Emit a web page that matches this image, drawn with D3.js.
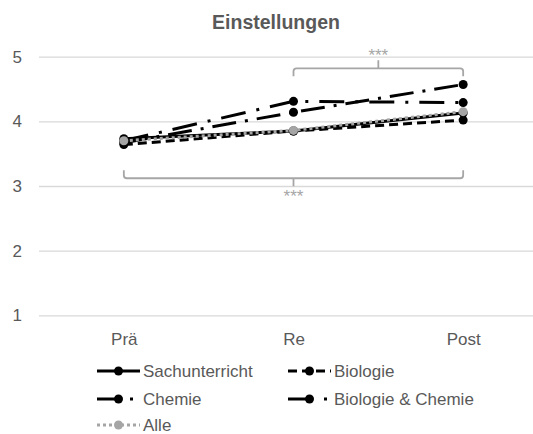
<!DOCTYPE html>
<html><head><meta charset="utf-8">
<script src="https://cdn.jsdelivr.net/npm/d3@7"></script>
<style>
html,body{margin:0;padding:0;background:#fff;}
text{font-family:"Liberation Sans",Arial,Helvetica,sans-serif;}
</style></head>
<body><svg id="chart" width="533" height="434"></svg>
<script>
const title = "Einstellungen";
const categories = ["Prä", "Re", "Post"];
const yTicks = [1, 2, 3, 4, 5];
const seriesNames = ["Sachunterricht", "Biologie", "Chemie", "Biologie & Chemie", "Alle"];
const sachunterricht = [3.73, 3.85, 4.13];
const biologie = [3.64, 3.85, 4.02];
const chemie = [3.67, 4.14, 4.57];
const biologieChemie = [3.70, 4.31, 4.29];
const alle = [3.70, 3.86, 4.15];
const significance = [
  {from: "Re", to: "Post", level: 4.82, side: "up", label: "***"},
  {from: "Prä", to: "Post", level: 3.12, side: "down", label: "***"}
];

(function () {
const styles = {
  "Sachunterricht": {color: "#000", dash: null},
  "Biologie": {color: "#000", dash: "9,5"},
  "Chemie": {color: "#000", dash: "24,9,3,9"},
  "Biologie & Chemie": {color: "#000", dash: "25,11,3,11"},
  "Alle": {color: "#a5a5a5", dash: "3,3"}
};
const seriesValues = [sachunterricht, biologie, chemie, biologieChemie, alle];
const series = seriesNames.map((n, i) => ({name: n, values: seriesValues[i]}));

const svg = d3.select("#chart");
const pLeft = 39, pRight = 548, pTop = 56.7, pBottom = 315.3;
const x = d3.scalePoint().domain(categories).range([pLeft, pRight]).padding(0.5);
const y = d3.scaleLinear().domain([1, 5]).range([pBottom, pTop]);

// title
svg.append("text").attr("x", 276).attr("y", 29).attr("text-anchor", "middle")
  .attr("font-size", 19.5).attr("font-weight", "bold").attr("fill", "#595959").text(title);

// y axis with gridlines
const yAxis = svg.append("g").attr("transform", `translate(${pLeft},0)`)
  .call(d3.axisLeft(y).tickValues(yTicks).tickFormat(d3.format("d")).tickSize(-(533 - pLeft)).tickPadding(17));
yAxis.select(".domain").remove();
yAxis.selectAll(".tick line").attr("stroke", "#d9d9d9").attr("stroke-width", 1.3);
yAxis.selectAll(".tick text").attr("font-size", 17).attr("fill", "#595959");

// x axis labels
const xAxis = svg.append("g").attr("transform", `translate(0,${pBottom})`)
  .call(d3.axisBottom(x).tickSize(0).tickPadding(18));
xAxis.select(".domain").remove();
xAxis.selectAll(".tick text").attr("font-size", 17).attr("fill", "#595959");

// significance brackets
const gray = "#a6a6a6";
significance.forEach(s => {
  const x1 = x(s.from), x2 = x(s.to), yy = y(s.level), xm = (x1 + x2) / 2;
  const endDir = s.side === "up" ? 1 : -1;
  const endLen = 8, r = 3, tick = 8;
  const p = d3.path();
  p.moveTo(x1, yy + endDir * endLen);
  p.lineTo(x1, yy + endDir * r);
  p.quadraticCurveTo(x1, yy, x1 + r, yy);
  p.lineTo(x2 - r, yy);
  p.quadraticCurveTo(x2, yy, x2, yy + endDir * r);
  p.lineTo(x2, yy + endDir * endLen);
  p.moveTo(xm, yy);
  p.lineTo(xm, yy - endDir * tick);
  svg.append("path").attr("d", p.toString()).attr("fill", "none")
    .attr("stroke", gray).attr("stroke-width", 1.8);
  svg.append("text").attr("x", xm)
    .attr("y", s.side === "up" ? yy - tick + 1 : yy + tick + 15.5)
    .attr("text-anchor", "middle").attr("font-size", 17).attr("fill", gray).text(s.label);
});

// lines
const line = d3.line().x((d, i) => x(categories[i])).y(d => y(d));
series.forEach(s => {
  const st = styles[s.name];
  svg.append("path").datum(s.values).attr("d", line).attr("fill", "none")
    .attr("stroke", st.color).attr("stroke-width", 3)
    .attr("stroke-dasharray", st.dash);
  svg.selectAll(null).data(s.values).enter().append("circle")
    .attr("cx", (d, i) => x(categories[i])).attr("cy", d => y(d))
    .attr("r", 4.5).attr("fill", st.color);
});

// legend
const legendPos = [[97, 371], [288, 371], [97, 399], [288, 399], [97, 425]];
const sampleLen = 43;
series.forEach((s, i) => {
  const st = styles[s.name];
  const [lx, ly] = legendPos[i];
  const g = svg.append("g");
  g.append("line").attr("x1", lx).attr("x2", lx + sampleLen).attr("y1", ly).attr("y2", ly)
    .attr("stroke", st.color).attr("stroke-width", 3).attr("stroke-dasharray", st.dash);
  g.append("circle").attr("cx", lx + sampleLen / 2).attr("cy", ly).attr("r", 4.5).attr("fill", st.color);
  g.append("text").attr("x", lx + sampleLen + 3).attr("y", ly + 6)
    .attr("font-size", 17).attr("fill", "#595959").text(s.name);
});
})();
</script></body></html>
